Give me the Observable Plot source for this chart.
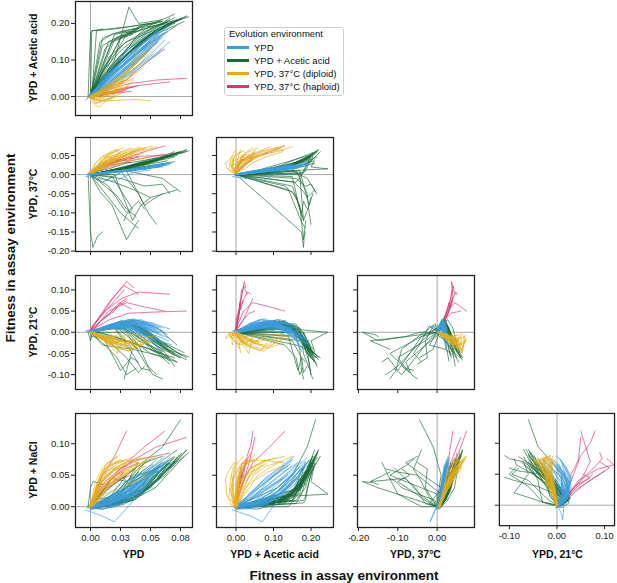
<!DOCTYPE html>
<html><head><meta charset="utf-8">
<script src="https://cdn.jsdelivr.net/npm/d3@7"></script>
<script src="https://cdn.jsdelivr.net/npm/@observablehq/plot@0.6"></script>
<style>
body{margin:0;background:#fff;font-family:"Liberation Sans",Arial,sans-serif;}
#fig{position:relative;width:617px;height:583px;overflow:hidden;}
.pan{position:absolute;}
.lab{position:absolute;font-weight:bold;color:#111;white-space:nowrap;transform:translate(-50%,-50%);}
.rot{transform:translate(-50%,-50%) rotate(-90deg);}
#legend{position:absolute;left:224px;top:27px;width:118px;height:67px;border:1px solid #d0d0d0;border-radius:3px;font-size:9.5px;color:#111;}
#legend .t{position:absolute;left:4px;top:0px;line-height:12px;}
#legend .it{position:absolute;left:2px;height:12px;line-height:12px;}
#legend .sw{display:inline-block;width:22px;height:3px;vertical-align:middle;margin-right:5px;position:relative;top:-1px;}
</style></head><body><div id="fig"></div>
<script>
// Assay environments (order of the five fitness values in each point)
const envs = ["YPD", "YPD + Acetic acid", "YPD, 37°C", "YPD, 21°C", "YPD + NaCl"];
const groups = ["YPD", "YPD + Acetic acid", "YPD, 37°C (diploid)", "YPD, 37°C (haploid)"];
const colors = ["#3a9de2", "#176b33", "#e3ad14", "#e0336e"];

// Each lineage: successive time points, each [YPD, Acetic acid, 37°C, 21°C, NaCl]
const blueLineages = [
  [[0,0,0,0,0],[0.010,0.022,0.004,0.008,0.000],[0.024,0.060,0.008,0.018,0.010],[0.040,0.110,0.014,0.014,0.030],[0.056,0.160,0.020,0.000,0.058]],
  [[0.002,0.004,0.001,-0.002,0.003],[0.015,0.045,0.006,0.012,0.008],[0.030,0.095,0.012,0.022,0.022],[0.045,0.140,0.018,0.010,0.045],[0.062,0.185,0.028,-0.030,0.072]],
  [[-0.003,-0.006,0.000,0.002,-0.002],[0.008,0.030,0.002,0.006,0.004],[0.020,0.065,0.006,0.015,0.002],[0.036,0.105,0.012,0.025,0.020],[0.050,0.150,0.016,0.018,0.050]],
  [[0.001,0.002,0.002,0.001,0.000],[0.018,0.040,0.007,0.016,0.015],[0.034,0.085,0.013,0.028,0.035],[0.048,0.125,0.018,0.010,0.055],[0.060,0.165,0.024,-0.010,0.070]],
  [[0.000,-0.002,-0.002,0.000,0.002],[0.012,0.050,0.005,0.010,0.003],[0.028,0.100,0.011,0.015,0.015],[0.044,0.145,0.016,0.000,0.038],[0.058,0.180,0.022,-0.040,0.066]],
  [[0.002,0.000,0.001,0.003,-0.003],[0.020,0.035,0.008,0.020,0.020],[0.032,0.070,0.012,0.030,0.040],[0.046,0.115,0.019,0.020,0.060],[0.055,0.150,0.024,0.005,0.075]],
  [[-0.001,0.001,0.000,-0.001,0.001],[0.006,0.018,0.002,0.004,0.000],[0.016,0.048,0.006,0.012,0.006],[0.030,0.090,0.010,0.020,0.014],[0.046,0.135,0.014,0.012,0.036]],
  [[0.000,0.003,0.002,0.000,-0.001],[0.022,0.070,0.009,0.022,0.010],[0.038,0.120,0.015,0.018,0.028],[0.052,0.160,0.022,-0.005,0.052],[0.065,0.195,0.030,-0.020,0.074]],
  [[0.003,-0.004,0.000,0.002,0.000],[0.014,0.028,0.004,0.014,0.012],[0.026,0.058,0.009,0.024,0.030],[0.040,0.100,0.014,0.016,0.048],[0.052,0.140,0.018,0.002,0.065]],
  [[0.000,0.000,-0.001,0.000,-0.004],[0.010,0.040,0.003,0.010,-0.002],[0.026,0.085,0.008,0.020,0.004],[0.042,0.128,0.014,0.008,0.024],[0.060,0.172,0.020,-0.025,0.060]],
  [[-0.002,0.002,0.001,0.001,0.002],[0.016,0.055,0.006,0.018,0.006],[0.030,0.098,0.010,0.026,0.018],[0.044,0.135,0.016,0.018,0.040],[0.057,0.168,0.022,0.000,0.062]],
  [[0.001,-0.001,0.000,-0.002,0.000],[0.008,0.032,0.004,0.004,0.002],[0.022,0.072,0.009,0.010,0.008],[0.038,0.115,0.013,0.022,0.026],[0.054,0.158,0.020,0.015,0.054]],
  [[0.002,0.001,0.002,0.000,0.001],[0.024,0.062,0.010,0.025,0.018],[0.040,0.105,0.016,0.020,0.036],[0.054,0.150,0.023,0.002,0.056],[0.066,0.190,0.032,-0.015,0.078]],
  [[0.000,0.000,0.000,0.002,-0.002],[0.012,0.025,0.003,0.008,0.006],[0.025,0.055,0.007,0.018,0.020],[0.038,0.092,0.012,0.028,0.034],[0.048,0.125,0.016,0.020,0.045]],
  [[-0.004,-0.010,-0.005,0.004,-0.005],[0.010,0.040,-0.012,0.010,-0.015],[0.020,0.070,-0.018,0.012,-0.024],[0.036,0.110,0.006,0.016,0.010],[0.050,0.150,0.012,0.010,0.040]],
  [[0.001,0.003,0.001,0.000,0.000],[0.018,0.060,0.007,0.015,0.004],[0.034,0.110,0.012,0.012,0.012],[0.050,0.155,0.018,-0.010,0.030],[0.062,0.175,0.024,-0.045,0.060]],
  [[0.000,-0.003,0.001,0.001,0.002],[0.014,0.036,0.005,0.012,0.010],[0.028,0.075,0.010,0.022,0.025],[0.042,0.118,0.015,0.030,0.042],[0.058,0.162,0.021,0.010,0.068]],
  [[0.002,0.002,0.000,-0.001,-0.002],[0.010,0.045,0.004,0.006,0.000],[0.022,0.080,0.008,0.012,0.004],[0.036,0.120,0.012,0.006,0.018],[0.050,0.165,0.018,-0.020,0.040]],
  [[-0.002,0.000,0.002,0.000,0.000],[0.020,0.048,0.008,0.018,0.014],[0.036,0.090,0.014,0.024,0.032],[0.050,0.130,0.020,0.012,0.050],[0.064,0.176,0.026,-0.005,0.072]],
  [[0.001,0.001,-0.001,0.002,0.001],[0.006,0.020,0.002,0.006,0.002],[0.018,0.050,0.006,0.014,0.010],[0.034,0.095,0.011,0.020,0.028],[0.048,0.138,0.016,0.008,0.050]],
  [[0.000,0.004,0.000,0.000,0.000],[0.016,0.065,0.006,0.014,0.006],[0.032,0.115,0.012,0.010,0.020],[0.046,0.150,0.018,-0.008,0.040],[0.068,0.198,0.030,-0.030,0.070]],
  [[0.003,0.000,0.001,0.001,0.003],[0.012,0.030,0.005,0.010,0.016],[0.026,0.066,0.010,0.020,0.036],[0.040,0.104,0.014,0.014,0.052],[0.052,0.145,0.020,0.000,0.068]],
  [[0.000,0.000,0.000,0.000,0.000],[0.022,0.055,0.008,0.020,0.008],[0.040,0.098,0.014,0.028,0.024],[0.052,0.138,0.019,0.022,0.046],[0.060,0.170,0.024,0.010,0.064]],
  [[-0.001,-0.002,0.001,-0.001,-0.001],[0.008,0.028,0.003,0.004,-0.004],[0.020,0.062,0.008,0.010,0.000],[0.034,0.100,0.012,0.004,0.012],[0.048,0.148,0.017,-0.012,0.034]],
  [[0,0,0,0,0],[0.012,0.020,0.004,0.010,0.004],[0.028,0.050,0.010,0.022,0.018],[0.044,0.085,0.016,0.020,0.040],[0.060,0.130,0.022,0.004,0.066]],
  [[0.001,0.002,0.001,0.000,0.000],[0.010,0.045,0.005,0.008,0.002],[0.022,0.090,0.010,0.016,0.010],[0.036,0.135,0.015,0.008,0.030],[0.050,0.175,0.022,-0.015,0.055]],
  [[-0.002,-0.004,0.000,0.001,0.001],[0.016,0.030,0.006,0.016,0.012],[0.032,0.062,0.012,0.030,0.030],[0.050,0.105,0.018,0.022,0.052],[0.066,0.150,0.026,0.008,0.074]],
  [[0.000,0.002,0.002,-0.001,-0.002],[0.008,0.040,0.004,0.004,0.000],[0.018,0.080,0.008,0.010,0.006],[0.030,0.125,0.012,0.004,0.022],[0.044,0.165,0.018,-0.020,0.046]],
  [[0.002,0.000,0.000,0.002,0.002],[0.020,0.040,0.009,0.022,0.022],[0.036,0.075,0.014,0.032,0.044],[0.050,0.115,0.020,0.018,0.062],[0.062,0.155,0.028,0.000,0.080]],
  [[0,0,0,0,0],[0.014,0.052,0.006,0.012,0.004],[0.030,0.105,0.012,0.018,0.016],[0.046,0.150,0.020,0.002,0.036],[0.060,0.192,0.030,-0.022,0.062]],
  [[0.001,-0.002,0.001,0.001,-0.001],[0.010,0.018,0.004,0.010,0.008],[0.022,0.042,0.008,0.020,0.022],[0.036,0.075,0.012,0.024,0.036],[0.052,0.115,0.018,0.014,0.056]],
  [[-0.001,0.003,-0.001,0.000,0.002],[0.018,0.065,0.008,0.018,0.010],[0.034,0.118,0.014,0.014,0.026],[0.048,0.160,0.020,-0.004,0.050],[0.058,0.188,0.026,-0.028,0.068]],
  [[0.002,0.002,0.002,0.001,0.000],[0.012,0.035,0.005,0.014,0.010],[0.026,0.072,0.010,0.026,0.028],[0.042,0.112,0.016,0.016,0.046],[0.056,0.148,0.022,-0.004,0.064]],
  [[0,-0.001,0,0.001,0],[0.006,0.025,0.002,0.004,0.002],[0.014,0.055,0.005,0.010,0.006],[0.026,0.092,0.009,0.016,0.016],[0.040,0.130,0.014,0.010,0.034]]
];
const greenLineages = [
  [[0,0.002,0,0,0],[0.012,0.050,0.008,0.010,0.002],[0.030,0.115,0.018,0.024,0.008],[0.050,0.168,0.034,-0.010,0.030],[0.070,0.205,0.052,-0.050,0.072]],
  [[0.002,0.005,0.002,-0.002,-0.003],[0.020,0.085,0.012,0.018,0.004],[0.038,0.140,0.024,0.020,0.012],[0.056,0.180,0.040,-0.025,0.045],[0.074,0.212,0.060,-0.060,0.082]],
  [[-0.002,-0.003,0.001,0.002,0.001],[0.010,0.045,0.006,0.008,0.000],[0.026,0.100,0.015,0.022,0.006],[0.044,0.150,0.028,0.010,0.024],[0.062,0.195,0.045,-0.040,0.065]],
  [[0.001,0.000,-0.002,0.000,-0.002],[0.024,0.095,0.016,0.024,0.008],[0.042,0.150,0.028,0.015,0.018],[0.060,0.190,0.045,-0.035,0.050],[0.080,0.220,0.064,-0.065,0.090]],
  [[0.000,0.004,0.000,0.001,0.002],[0.015,0.065,0.010,0.012,0.000],[0.034,0.125,0.020,0.020,0.010],[0.050,0.170,0.032,-0.015,0.032],[0.066,0.200,0.050,-0.045,0.070]],
  [[0.003,0.001,0.002,-0.001,-0.001],[0.026,0.100,0.018,0.028,0.012],[0.044,0.158,0.032,0.000,0.022],[0.060,0.192,0.044,-0.050,0.050],[0.072,0.210,0.054,-0.070,0.078]],
  [[-0.001,0.003,0.000,0.000,0.000],[0.010,0.055,0.006,0.010,-0.004],[0.028,0.112,0.016,0.026,0.004],[0.046,0.160,0.030,0.005,0.028],[0.058,0.190,0.040,-0.020,0.058]],
  [[0.002,-0.002,0.001,0.002,0.001],[0.018,0.078,0.012,0.016,0.004],[0.038,0.138,0.024,0.018,0.016],[0.058,0.182,0.040,-0.020,0.046],[0.076,0.215,0.058,-0.055,0.085]],
  [[0.000,0.000,-0.001,-0.002,-0.004],[0.014,0.060,0.008,0.014,0.002],[0.032,0.118,0.018,0.022,0.010],[0.048,0.165,0.030,-0.005,0.034],[0.064,0.198,0.048,-0.035,0.068]],
  [[0.001,0.006,0.001,0.001,0.000],[0.022,0.090,0.014,0.020,0.006],[0.040,0.145,0.026,0.012,0.018],[0.062,0.188,0.046,-0.030,0.050],[0.080,0.220,0.065,-0.060,0.090]],
  [[0,0,0,0,0],[0.016,0.110,0.005,0.010,0.030],[0.030,0.150,0.010,0.010,0.050],[0.060,0.190,-0.010,-0.040,0.095],[0.075,0.212,-0.045,-0.060,0.138]],
  [[0,0,0,0,0],[0.001,0.180,0.005,-0.010,0.010],[0.015,0.185,0.015,-0.015,0.015],[0.030,0.190,0.030,-0.020,0.030],[0.060,0.205,0.045,-0.050,0.060]],
  [[0,0,0,0,0],[0.010,0.160,-0.020,-0.030,0.005],[0.022,0.175,0.000,-0.035,0.020],[0.035,0.185,0.020,-0.040,0.040],[0.065,0.200,0.050,-0.060,0.070]],
  [[0.001,0.001,0.002,0.000,0.000],[0.016,0.070,0.010,0.015,0.003],[0.036,0.130,0.022,0.028,0.010],[0.054,0.176,0.036,-0.010,0.040],[0.068,0.206,0.048,-0.040,0.076]],
  [[-0.002,0.002,0.000,0.001,0.001],[0.008,0.040,0.004,0.006,0.000],[0.024,0.095,0.012,0.018,0.004],[0.040,0.145,0.022,0.012,0.020],[0.056,0.185,0.036,-0.028,0.055]],
  [[0.002,0.000,0.001,-0.001,0.002],[0.028,0.120,0.018,0.020,0.010],[0.040,0.170,0.030,-0.010,0.030],[0.052,0.200,0.036,-0.045,0.055],[0.070,0.225,0.060,-0.060,0.080]],
  [[0,0.003,0,0,0],[0.020,0.100,0.008,0.012,0.015],[0.032,0.245,0.015,0.000,0.020],[0.040,0.200,0.020,-0.020,0.040],[0.060,0.210,0.040,-0.045,0.070]],
  [[0.001,0.000,0.000,0.002,0.000],[0.005,0.180,0.004,0.000,0.006],[0.020,0.185,0.010,-0.010,0.010],[0.040,0.195,0.030,-0.030,0.040],[0.058,0.205,0.042,-0.050,0.065]],
  [[0,0,0,0,0],[0.015,0.150,-0.030,-0.020,0.010],[0.030,0.175,-0.100,-0.060,0.040],[0.040,0.180,-0.070,-0.095,0.050],[0.045,0.190,-0.090,-0.080,0.060]],
  [[0,0.002,0,0,0],[0.020,0.170,0.000,0.010,0.020],[0.035,0.180,-0.120,-0.050,0.050],[0.042,0.195,-0.080,-0.085,0.065],[0.050,0.200,-0.060,-0.090,0.075]],
  [[-0.002,0,0,0,0],[0.000,0.175,-0.150,-0.020,0.030],[0.002,0.180,-0.190,0.000,0.040],[0.006,0.182,-0.160,-0.005,0.038],[0.010,0.185,-0.150,-0.010,0.035]],
  [[0,0,0,0,0],[0.025,0.160,0.010,0.020,0.020],[0.040,0.190,-0.050,-0.030,0.050],[0.048,0.195,-0.100,-0.080,0.055],[0.055,0.200,-0.130,-0.100,0.060]],
  [[0,0,0,0,0],[0.030,0.170,0.010,0.000,0.030],[0.045,0.195,-0.080,-0.070,0.070],[0.052,0.200,-0.065,-0.100,0.075],[0.060,0.205,-0.050,-0.110,0.080]],
  [[0,0,0,0,0],[0.010,0.140,-0.040,-0.010,0.000],[0.025,0.165,-0.100,-0.090,0.020],[0.034,0.175,-0.125,-0.060,0.050],[0.040,0.185,-0.140,-0.070,0.070]],
  [[0,0,0,0,0],[0.020,0.155,-0.020,0.015,0.015],[0.040,0.180,-0.045,-0.030,0.045],[0.050,0.190,-0.060,-0.050,0.060],[0.072,0.210,-0.040,-0.070,0.090]],
  [[0,0,0,0,0],[0.018,0.150,-0.005,0.020,0.010],[0.035,0.170,-0.090,-0.040,0.030],[0.030,0.175,-0.105,-0.090,0.040],[0.028,0.180,-0.120,-0.110,0.045]],
  [[0,0,0,0,0],[0.012,0.130,-0.030,-0.030,0.005],[0.022,0.160,-0.055,-0.060,0.030],[0.030,0.170,-0.090,-0.100,0.050],[0.038,0.178,-0.110,-0.085,0.062]],
  [[0,0,0,0,0],[0.008,0.150,-0.045,0.000,0.020],[0.018,0.170,-0.080,-0.010,0.045],[0.030,0.180,-0.170,-0.020,0.040],[0.040,0.186,-0.120,-0.040,0.055]],
  [[0,0,0,0,0],[0.025,0.160,-0.010,0.015,0.010],[0.045,0.185,-0.030,-0.020,0.030],[0.060,0.200,-0.025,-0.060,0.060],[0.066,0.215,-0.050,-0.075,0.070]],
  [[0,0,0,0,0],[0.016,0.080,0.006,0.014,0.006],[0.034,0.135,0.014,0.018,0.012],[0.052,0.175,0.024,-0.020,0.036],[0.070,0.200,0.034,-0.055,0.070]],
  [[0.001,0.002,0.001,0.000,0.000],[0.014,0.060,0.010,0.008,0.000],[0.032,0.120,0.024,0.014,0.008],[0.054,0.170,0.044,-0.015,0.030],[0.078,0.205,0.058,-0.048,0.080]],
  [[-0.001,0.000,0.000,0.001,0.001],[0.020,0.095,0.010,0.020,0.010],[0.036,0.150,0.020,0.008,0.022],[0.050,0.185,0.028,-0.030,0.045],[0.064,0.205,0.036,-0.060,0.068]],
  [[0.002,0.003,0.002,0.000,-0.002],[0.010,0.070,0.006,0.012,0.002],[0.026,0.128,0.016,0.026,0.010],[0.042,0.170,0.030,0.010,0.026],[0.060,0.198,0.044,-0.030,0.060]],
  [[0,0,0,0,0],[0.024,0.110,0.014,0.022,0.014],[0.046,0.165,0.030,0.004,0.030],[0.064,0.198,0.046,-0.040,0.058],[0.082,0.218,0.062,-0.058,0.086]],
  [[0,0.004,0,0,0],[0.012,0.085,0.004,0.006,0.004],[0.028,0.145,0.012,0.010,0.012],[0.046,0.180,0.022,-0.025,0.034],[0.066,0.210,0.030,-0.068,0.064]],
  [[0.001,-0.002,0.000,0.002,0.000],[0.018,0.060,0.012,0.016,0.006],[0.036,0.110,0.026,0.030,0.018],[0.056,0.160,0.040,0.010,0.044],[0.072,0.195,0.050,-0.030,0.074]],
  [[0,0,0,0,0],[0.030,0.130,0.020,0.024,0.016],[0.048,0.175,0.034,-0.012,0.040],[0.062,0.200,0.040,-0.048,0.062],[0.070,0.216,0.046,-0.080,0.078]]
];
const yellowLineages = [
  [[0,0,0.005,0,0],[0.005,0.002,0.020,-0.006,0.025],[0.012,0.008,0.035,-0.015,0.048],[0.022,0.015,0.048,-0.025,0.062],[0.030,0.025,0.058,-0.012,0.070]],
  [[0.001,-0.005,0.008,-0.002,0.002],[0.008,-0.012,0.022,-0.010,0.035],[0.016,-0.005,0.036,-0.022,0.055],[0.026,0.015,0.048,-0.030,0.068],[0.036,0.045,0.056,-0.015,0.076]],
  [[-0.002,0,0.004,0.001,-0.002],[0.006,0.008,0.016,-0.004,0.020],[0.014,0.020,0.028,-0.010,0.038],[0.022,0.040,0.040,-0.018,0.050],[0.030,0.062,0.050,-0.025,0.060]],
  [[0,0.003,0.006,0,0],[0.010,0.015,0.028,-0.015,0.040],[0.020,0.040,0.045,-0.035,0.062],[0.032,0.075,0.060,-0.045,0.072],[0.045,0.110,0.070,-0.020,0.078]],
  [[0.002,-0.002,0.010,0,0.003],[0.004,-0.018,0.028,-0.006,0.030],[0.010,-0.012,0.045,-0.015,0.052],[0.016,-0.005,0.058,-0.012,0.066],[0.022,0.000,0.066,-0.006,0.072]],
  [[0,0,0.005,-0.003,0],[0.012,0.018,0.025,-0.020,0.038],[0.024,0.035,0.045,-0.030,0.060],[0.036,0.070,0.062,-0.040,0.072],[0.052,0.130,0.075,-0.015,0.080]],
  [[0.001,0.002,0.002,0.002,0.001],[0.008,-0.002,0.014,-0.008,0.018],[0.016,0.010,0.024,-0.016,0.034],[0.024,0.020,0.034,-0.026,0.046],[0.032,0.030,0.044,-0.034,0.055]],
  [[-0.001,-0.003,0.008,0,-0.001],[0.010,0.008,0.024,-0.014,0.050],[0.020,0.016,0.036,-0.010,0.068],[0.030,0.060,0.050,-0.008,0.074],[0.040,0.128,0.064,-0.004,0.070]],
  [[0,0,0.003,0,0.002],[0.004,-0.020,0.014,-0.004,0.015],[0.010,-0.014,0.030,-0.008,0.030],[0.018,-0.004,0.046,-0.020,0.048],[0.026,0.010,0.060,-0.040,0.062]],
  [[0.002,0,0.006,-0.001,0],[0.014,0.025,0.028,-0.012,0.030],[0.028,0.060,0.046,-0.022,0.050],[0.040,0.100,0.060,-0.014,0.066],[0.055,0.150,0.072,-0.008,0.080]],
  [[0,0.001,0.004,0,0],[0.006,0.006,0.020,-0.010,0.040],[0.012,0.012,0.034,-0.020,0.060],[0.020,0.018,0.044,-0.028,0.070],[0.026,0.026,0.052,-0.018,0.075]],
  [[0.001,-0.004,0.007,0.001,0.001],[0.009,-0.010,0.024,-0.006,0.032],[0.020,0.020,0.040,-0.014,0.048],[0.030,0.046,0.052,-0.024,0.058],[0.038,0.072,0.062,-0.030,0.066]],
  [[-0.001,0.002,0.005,0,-0.003],[0.003,-0.006,0.010,0.000,0.008],[0.008,-0.002,0.020,-0.006,0.022],[0.014,0.002,0.030,-0.010,0.036],[0.020,0.006,0.040,-0.012,0.048]],
  [[0,0,0.006,0.001,0.001],[0.010,0.012,0.030,-0.018,0.045],[0.022,0.040,0.052,-0.036,0.060],[0.032,0.066,0.064,-0.044,0.068],[0.042,0.090,0.072,-0.016,0.076]],
  [[0.001,-0.008,0.004,-0.002,0.000],[0.012,-0.012,0.018,-0.012,0.020],[0.026,-0.010,0.030,-0.020,0.030],[0.038,-0.008,0.040,-0.030,0.040],[0.050,-0.012,0.046,-0.024,0.050]],
  [[0,-0.010,0.005,0,0.000],[0.004,-0.025,0.018,-0.008,0.020],[0.008,-0.028,0.030,-0.015,0.045],[0.012,-0.015,0.042,-0.010,0.062],[0.018,-0.005,0.050,-0.006,0.070]],
  [[0.001,0.001,0.008,0,0.001],[0.008,0.010,0.030,-0.010,0.050],[0.014,0.015,0.050,-0.020,0.070],[0.018,0.030,0.040,-0.030,0.072],[0.024,0.050,0.055,-0.020,0.082]],
  [[0,0,0.004,0,0],[0.010,0.020,0.022,-0.012,0.028],[0.018,0.030,0.034,-0.024,0.040],[0.028,0.036,0.050,-0.018,0.052],[0.036,0.050,0.062,-0.026,0.060]],
  [[-0.001,-0.002,0.005,0,0.001],[0.005,0.000,0.020,-0.008,0.030],[0.009,0.004,0.038,-0.014,0.046],[0.015,0.008,0.052,-0.022,0.058],[0.024,0.012,0.064,-0.048,0.064]],
  [[0.002,0.003,0.006,0,0],[0.014,0.030,0.032,-0.016,0.034],[0.024,0.050,0.044,-0.026,0.052],[0.034,0.080,0.058,-0.032,0.064],[0.046,0.118,0.068,-0.012,0.072]],
  [[0,0,0.004,0,0],[0.006,0.004,0.024,-0.008,0.030],[0.014,0.015,0.042,-0.018,0.056],[0.024,0.030,0.058,-0.034,0.070],[0.034,0.060,0.070,-0.020,0.078]],
  [[0.001,0.000,0.006,0.000,0.001],[0.010,0.010,0.018,-0.010,0.022],[0.020,0.028,0.030,-0.018,0.040],[0.030,0.045,0.044,-0.024,0.056],[0.044,0.080,0.056,-0.010,0.068]],
  [[0,-0.003,0.005,0.000,0.000],[0.004,-0.008,0.030,-0.006,0.040],[0.010,-0.004,0.048,-0.012,0.062],[0.016,0.008,0.056,-0.030,0.072],[0.022,0.020,0.062,-0.014,0.080]],
  [[0.001,0.001,0.003,0.001,0.000],[0.012,0.030,0.020,-0.012,0.026],[0.022,0.050,0.034,-0.026,0.042],[0.034,0.085,0.048,-0.038,0.055],[0.046,0.125,0.060,-0.026,0.064]],
  [[0,0,0.006,0,0.001],[0.008,0.006,0.032,-0.014,0.046],[0.016,0.020,0.052,-0.030,0.064],[0.022,0.034,0.064,-0.050,0.070],[0.028,0.044,0.070,-0.010,0.074]]
];
const pinkLineages = [
  [[0,0,0.002,0.005,0],[0.008,0.006,0.020,0.040,0.025],[0.018,0.014,0.035,0.080,0.045],[0.028,0.020,0.040,0.110,0.060],[0.040,0.030,0.045,0.090,0.070]],
  [[0.002,-0.002,0.004,0.003,0.002],[0.015,0.020,0.025,0.050,0.040],[0.030,0.045,0.045,0.070,0.070],[0.045,0.090,0.060,0.060,0.095],[0.062,0.130,0.075,0.050,0.120]],
  [[0,0.002,0.006,0.010,0],[0.006,0.000,0.018,0.030,0.015],[0.014,0.008,0.028,0.055,0.032],[0.022,0.012,0.034,0.080,0.045],[0.028,0.015,0.038,0.100,0.055]],
  [[0.001,0,0.005,0.008,0.001],[0.010,0.008,0.028,0.045,0.040],[0.020,0.015,0.040,0.085,0.058],[0.030,0.022,0.036,0.120,0.065],[0.036,0.026,0.042,0.105,0.075]],
  [[0,0,0.003,0.004,0],[0.016,0.020,0.020,0.030,0.040],[0.032,0.035,0.035,0.045,0.070],[0.055,0.045,0.050,0.048,0.095],[0.080,0.050,0.060,0.050,0.110]],
  [[-0.001,-0.003,0.004,0.002,-0.002],[0.006,0.000,0.016,0.020,0.012],[0.014,0.006,0.026,0.040,0.028],[0.022,0.012,0.034,0.060,0.040],[0.030,0.018,0.040,0.075,0.050]],
  [[0,0.001,0.008,0.006,0.001],[0.012,0.010,0.030,0.050,0.040],[0.026,0.022,0.040,0.080,0.062],[0.040,0.030,0.048,0.095,0.075],[0.066,0.040,0.050,0.090,0.085]],
  [[0,0,0.004,0.004,0],[0.010,0.020,0.020,0.030,0.050],[0.020,0.030,0.030,0.050,0.080],[0.025,0.040,0.035,0.070,0.100],[0.030,0.045,0.040,0.080,0.120]],
  [[0.001,0.002,0.003,0.002,0.001],[0.008,0.004,0.015,0.025,0.020],[0.016,0.008,0.024,0.045,0.034],[0.024,0.010,0.030,0.070,0.044],[0.034,0.014,0.032,0.055,0.050]]
];

// Axis ticks and labels
const colTicks = [[0, 0.025, 0.05, 0.075], [0, 0.1, 0.2], [-0.2, -0.1, 0], [-0.1, 0, 0.1]];
const colTickLabels = [["0.00","0.03","0.05","0.08"], ["0.00","0.10","0.20"], ["-0.20","-0.10","0.00"], ["-0.10","0.00","0.10"]];
const rowTicks = [[0, 0.1, 0.2], [-0.2, -0.15, -0.1, -0.05, 0, 0.05], [-0.1, -0.05, 0, 0.05, 0.1], [0, 0.05, 0.1]];
const rowTickLabels = [["0.00","0.10","0.20"], ["-0.20","-0.15","-0.10","-0.05","0.00","0.05"], ["-0.10","-0.05","0.00","0.05","0.10"], ["0.00","0.05","0.10"]];
const colDomains = [[-0.0125, 0.085], [-0.052, 0.26], [-0.2025, 0.095], [-0.121, 0.121]];
const rowDomains = [[-0.052, 0.26], [-0.201, 0.097], [-0.135, 0.134], [-0.033, 0.148]];

// drawing order: haploid, acetic acid, YPD, diploid
const drawOrder = [3, 1, 0, 2];
const sets = [blueLineages, greenLineages, yellowLineages, pinkLineages];
const rows = [];
drawOrder.forEach(g => sets[g].forEach((lin, k) => lin.forEach((v, t) => rows.push({id: g + "-" + k, group: groups[g], t, v}))));

const fig = document.getElementById("fig");
const colX = [75, 216, 357, 499];
const rowY = [1, 137, 275, 413];
const W = 117, H = 114;

for (let r = 0; r < 4; r++) {
  for (let c = 0; c <= r; c++) {
    const xi = c, yi = r + 1;
    const mL = c === 0 ? 45 : 8, mR = 3, mT = 3, mB = r === 3 ? 24 : 8;
    const svg = Plot.plot({
      width: W + mL + mR, height: H + mT + mB,
      marginLeft: mL, marginRight: mR, marginTop: mT, marginBottom: mB,
      style: {fontFamily: "Liberation Sans, Arial, sans-serif", fontSize: "9.5px", color: "#222", background: "transparent"},
      x: {domain: colDomains[c]},
      y: {domain: rowDomains[r]},
      color: {domain: groups, range: colors},
      marks: [
        Plot.ruleX([0], {stroke: "#a8a8a8", strokeWidth: 1}),
        Plot.ruleY([0], {stroke: "#a8a8a8", strokeWidth: 1}),
        Plot.line(rows, {x: d => d.v[xi], y: d => d.v[yi], z: "id", stroke: "group", strokeWidth: 0.95, strokeOpacity: 0.7, clip: true}),
        Plot.axisX(colTicks[c], {tickSize: 4, tickPadding: 3, label: null,
          tickFormat: r === 3 ? (d => colTickLabels[c][colTicks[c].indexOf(d)]) : (() => "")}),
        Plot.axisY(rowTicks[r], {tickSize: 4, tickPadding: 2, label: null,
          tickFormat: c === 0 ? (d => rowTickLabels[r][rowTicks[r].indexOf(d)]) : (() => "")}),
        Plot.frame({stroke: "#222", strokeWidth: 1.3})
      ]
    });
    const wrap = document.createElement("div");
    wrap.className = "pan";
    wrap.style.left = (colX[c] - mL) + "px";
    wrap.style.top = (rowY[r] - mT) + "px";
    wrap.appendChild(svg);
    fig.appendChild(wrap);
  }
}

function label(text, x, y, size, rot) {
  const d = document.createElement("div");
  d.className = "lab" + (rot ? " rot" : "");
  d.textContent = text;
  d.style.left = x + "px"; d.style.top = y + "px"; d.style.fontSize = size + "px";
  fig.appendChild(d);
}
for (let r = 0; r < 4; r++) label(envs[r + 1], 33, rowY[r] + H / 2, 10.5, true);
for (let c = 0; c < 4; c++) label(envs[c], colX[c] + W / 2, 554, 10.5, false);
label("Fitness in assay environment", 344, 575, 13.5, false);
label("Fitness in assay environment", 10, 248, 13.5, true);

const lg = document.createElement("div");
lg.id = "legend";
lg.innerHTML = '<div class="t">Evolution environment</div>' + groups.map((g, i) =>
  `<div class="it" style="top:${14 + i * 13}px"><span class="sw" style="background:${colors[i]}"></span>${g}</div>`).join("");
fig.appendChild(lg);
</script></body></html>
